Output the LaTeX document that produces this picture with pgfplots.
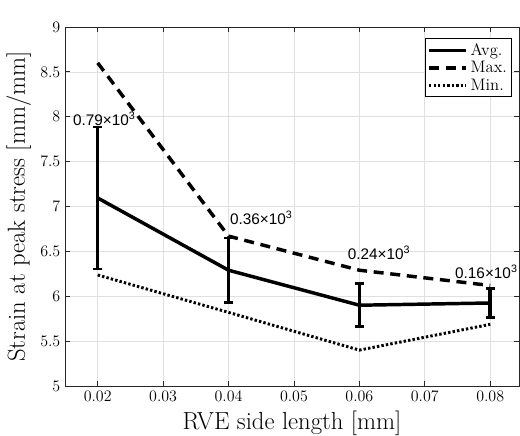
\documentclass[border=0pt]{standalone}
\usepackage{fontspec}
\usepackage{pgfplots}
\pgfplotsset{compat=1.18}
\newfontfamily\arial{Liberation Sans}

\begin{document}
\begin{tikzpicture}
\begin{axis}[
  scale only axis, width=340.5pt, height=269.25pt,
  xmin=0.015, xmax=0.0844, ymin=5, ymax=9,
  xtick={0.02,0.03,0.04,0.05,0.06,0.07,0.08},
  ytick={5,5.5,6,6.5,7,7.5,8,8.5,9},
  scaled x ticks=false, scaled y ticks=false,
  xticklabel style={/pgf/number format/fixed,/pgf/number format/precision=2},
  yticklabel style={/pgf/number format/fixed},
  tick label style={font=\fontsize{11.5}{13}\selectfont},
  xlabel={RVE side length [mm]}, ylabel={Strain at peak stress [mm/mm]},
  label style={font=\fontsize{18.5}{22}\selectfont},
  xlabel style={yshift=-0.5pt},
  grid=major, major grid style={black!12, line width=0.5pt},
  axis line style={black!85, line width=0.6pt},
  tick style={black!85, line width=0.6pt}, tick align=inside,
  major tick length=4pt,
  legend style={at={(0.985,0.969)}, anchor=north east, draw=black,
    line width=0.8pt, font=\fontsize{12.5}{14}\selectfont,
    inner sep=1.5pt, row sep=-1pt},
  legend cell align=left,
  legend image code/.code={\draw[#1] (0pt,0pt) -- (28pt,0pt);},
]
% mean with +/- standard deviation
\addplot[black, line width=2.6pt, mark=none,
  error bars/.cd, y dir=both, y explicit,
  error bar style={line width=2.6pt, black},
  error mark options={rotate=90, mark size=3.5pt, line width=2pt}]
  coordinates {
  (0.02,7.095) +- (0,0.79)
  (0.04,6.29)  +- (0,0.36)
  (0.06,5.90)  +- (0,0.24)
  (0.08,5.925) +- (0,0.16)
};
\addlegendentry{Avg.}
\addplot[black, line width=2.6pt, mark=none, dash pattern=on 7.5pt off 5pt]
  coordinates {(0.02,8.60) (0.04,6.67) (0.06,6.29) (0.08,6.12)};
\addlegendentry{Max.}
\addplot[black, line width=2.2pt, mark=none, dash pattern=on 1.8pt off 1.6pt]
  coordinates {(0.02,6.237) (0.04,5.82) (0.06,5.40) (0.08,5.687)};
\addlegendentry{Min.}

\node[anchor=west, font=\arial\fontsize{11.5}{13}\selectfont, inner sep=0pt]
  at (axis cs:0.0162,7.975) {0.79×10\textsuperscript{3}};
\node[anchor=west, font=\arial\fontsize{11.5}{13}\selectfont, inner sep=0pt]
  at (axis cs:0.0402,6.87) {0.36×10\textsuperscript{3}};
\node[anchor=west, font=\arial\fontsize{11.5}{13}\selectfont, inner sep=0pt]
  at (axis cs:0.0582,6.48) {0.24×10\textsuperscript{3}};
\node[anchor=west, font=\arial\fontsize{11.5}{13}\selectfont, inner sep=0pt]
  at (axis cs:0.0746,6.27) {0.16×10\textsuperscript{3}};

\node[anchor=south west, inner sep=1pt, font=\fontsize{11}{12}\selectfont]
  at (rel axis cs:0,1) {$\times10^{-3}$};

\coordinate (bl) at ([xshift=-48.75pt,yshift=-36.75pt]rel axis cs:0,0);
\coordinate (tr) at ([xshift=0.75pt,yshift=20.25pt]rel axis cs:1,1);
\end{axis}
\pgfresetboundingbox
\path[use as bounding box] (bl) rectangle (tr);
\end{tikzpicture}
\end{document}
